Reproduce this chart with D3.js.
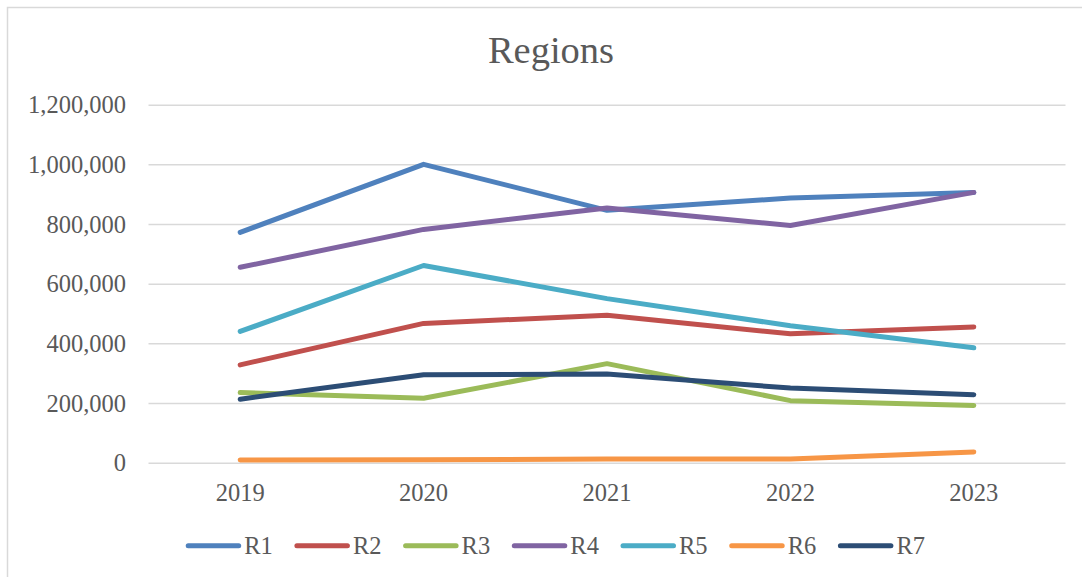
<!DOCTYPE html>
<html>
<head>
<meta charset="utf-8">
<script src="https://cdn.jsdelivr.net/npm/d3@7"></script>
<style>
  html, body { margin: 0; padding: 0; background: #fff; }
  svg { display: block; }
  text { font-family: "Liberation Serif", "DejaVu Serif", serif; fill: #595959; }
</style>
</head>
<body>
<svg id="chart" width="1082" height="577"></svg>
<script>
const years = ["2019", "2020", "2021", "2022", "2023"];
const seriesNames = ["R1", "R2", "R3", "R4", "R5", "R6", "R7"];
const R1 = [772000, 1000000, 846000, 887000, 906000];
const R2 = [328000, 467000, 494000, 432000, 455000];
const R3 = [235000, 216000, 332000, 208000, 192000];
const R4 = [655000, 782000, 854000, 795000, 906000];
const R5 = [440000, 661000, 550000, 459000, 385000];
const R6 = [9000, 10000, 12000, 12000, 36000];
const R7 = [213000, 295000, 297000, 250000, 228000];
const yTicks = [0, 200000, 400000, 600000, 800000, 1000000, 1200000];
const colors = ["#4F81BD", "#C0504D", "#9BBB59", "#8064A2", "#4BACC6", "#F79646", "#2C4D75"];

const seriesValues = [R1, R2, R3, R4, R5, R6, R7];
const series = seriesNames.map((n, i) => ({ name: n, values: seriesValues[i], color: colors[i] }));

const svg = d3.select("#chart");

// chart frame (left and top edges visible)
svg.append("rect")
  .attr("x", 7.5).attr("y", 7.5)
  .attr("width", 1200).attr("height", 700)
  .attr("fill", "none").attr("stroke", "#d9d9d9").attr("stroke-width", 1.5);

const plot = { left: 148.5, right: 1065.5, top: 104.7, bottom: 462.7 };

const x = d3.scaleBand().domain(years).range([plot.left, plot.right]);
const y = d3.scaleLinear().domain([0, 1200000]).range([plot.bottom, plot.top]);

// gridlines
const yAxis = d3.axisLeft(y).tickValues(yTicks).tickSize(-(plot.right - plot.left))
  .tickFormat(d3.format(",")).tickPadding(22);
const gy = svg.append("g").attr("transform", `translate(${plot.left},0)`).call(yAxis);
gy.select(".domain").remove();
gy.selectAll(".tick line").attr("stroke", "#d9d9d9").attr("stroke-width", 1.5);
gy.selectAll(".tick text")
  .attr("font-family", '"Liberation Serif", serif')
  .attr("font-size", 24.5).attr("fill", "#595959")
  .attr("x", 126 - plot.left).attr("dy", "0.33em");

// x axis labels
const xAxis = d3.axisBottom(x).tickSize(0).tickPadding(0);
const gx = svg.append("g").attr("transform", `translate(0,${plot.bottom})`).call(xAxis);
gx.select(".domain").remove();
gx.selectAll(".tick text")
  .attr("font-family", '"Liberation Serif", serif')
  .attr("font-size", 24.5).attr("fill", "#595959")
  .attr("y", 38).attr("dy", 0);

// lines
const line = d3.line()
  .x((d, i) => x(years[i]) + x.bandwidth() / 2)
  .y(d => y(d));

svg.append("g").selectAll("path").data(series).join("path")
  .attr("d", d => line(d.values))
  .attr("fill", "none")
  .attr("stroke", d => d.color)
  .attr("stroke-width", 5)
  .attr("stroke-linecap", "round")
  .attr("stroke-linejoin", "round");

// title
svg.append("text")
  .attr("x", 551).attr("y", 63)
  .attr("text-anchor", "middle")
  .attr("font-size", 38.5)
  .attr("fill", "#595959")
  .text("Regions");

// legend
const legendX = d3.scalePoint().domain(seriesNames).range([185.7, 185.7 + 6 * 108.7]);
const lg = svg.append("g").selectAll("g").data(series).join("g")
  .attr("transform", d => `translate(${legendX(d.name)},545.7)`);
lg.append("line")
  .attr("x1", 2.5).attr("x2", 53)
  .attr("y1", 0).attr("y2", 0)
  .attr("stroke", d => d.color)
  .attr("stroke-width", 5)
  .attr("stroke-linecap", "round");
lg.append("text")
  .attr("x", 58.5).attr("y", 0).attr("dy", "0.33em")
  .attr("font-size", 24.5)
  .attr("fill", "#595959")
  .text(d => d.name);
</script>
</body>
</html>
